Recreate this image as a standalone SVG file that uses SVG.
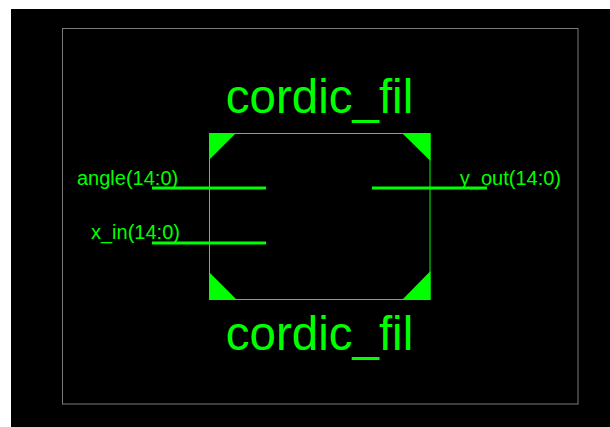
<svg xmlns="http://www.w3.org/2000/svg" width="610" height="427" viewBox="0 0 610 427">
<style>
.g{fill:#00ff00}
.t{font-family:"Liberation Sans",Arial,sans-serif;fill:#00ff00}
.pin{stroke:#00ff00;stroke-width:3;fill:none}
</style>
<rect x="0" y="0" width="610" height="427" fill="#ffffff"/>
<rect x="11" y="9" width="599" height="418" fill="#000000"/>
<rect x="62.5" y="28.5" width="515.5" height="375.5" fill="none" stroke="#7a7a7a" stroke-width="1"/>
<g id="cordic_fil">
<rect x="209.5" y="133.5" width="220.5" height="166" fill="none" stroke="#00ff00" stroke-width="1"/>
<polygon class="g" points="209,133 236,133 209,160"/>
<polygon class="g" points="402,133 430.5,133 430.5,161"/>
<polygon class="g" points="209,272 209,300 237,300"/>
<polygon class="g" points="430.5,271 430.5,300 402,300"/>
<text class="t" x="319.5" y="112.5" font-size="47.5" text-anchor="middle">cordic_fil</text>
<text class="t" x="319.5" y="350" font-size="47.5" text-anchor="middle">cordic_fil</text>
</g>
<g id="connectors">
<line class="pin" x1="152" y1="188" x2="266" y2="188"/>
<line class="pin" x1="152" y1="243" x2="266" y2="243"/>
<line class="pin" x1="372" y1="188" x2="487" y2="188"/>
</g>
<g id="pin_angle"><text class="t" x="77" y="185" font-size="20">angle(14:0)</text></g>
<g id="pin_x_in"><text class="t" x="91" y="239" font-size="20">x_in(14:0)</text></g>
<g id="pin_y_out"><text class="t" x="561" y="185" font-size="20" text-anchor="end">y_out(14:0)</text></g>
</svg>
